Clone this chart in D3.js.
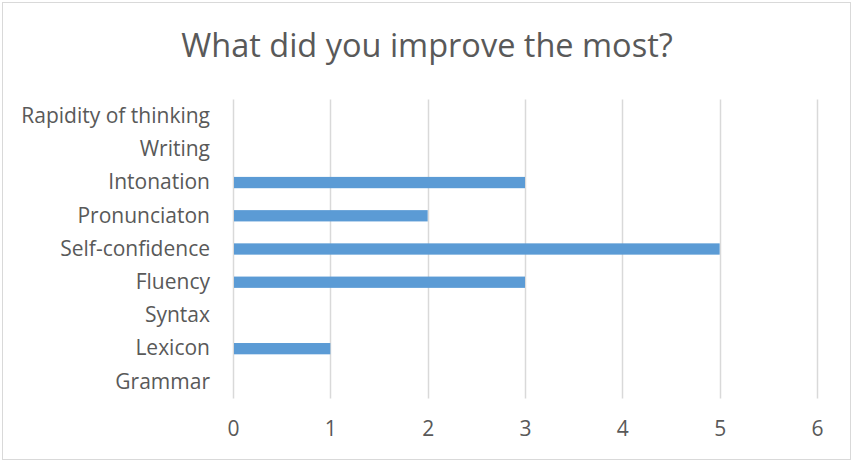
<!DOCTYPE html>
<html><head><meta charset="utf-8">
<script src="https://cdn.jsdelivr.net/npm/d3@7"></script>
<style>body{margin:0;background:#fff}svg{display:block}</style>
</head><body>
<svg id="c" width="854" height="463"></svg>
<script>
const title = "What did you improve the most?";
const categories = ["Rapidity of thinking","Writing","Intonation","Pronunciaton","Self-confidence","Fluency","Syntax","Lexicon","Grammar"];
const values = [0,0,3,2,5,3,0,1,0];
const xTicks = [0,1,2,3,4,5,6];

const svg = d3.select("#c");
const font = "'Open Sans', sans-serif";
svg.append("rect").attr("x",2.5).attr("y",2.5).attr("width",848).attr("height",457)
  .attr("fill","#fff").attr("stroke","#d9d9d9").attr("stroke-width",1);

const x = d3.scaleLinear().domain([0,6]).range([233,817]);
const y = d3.scaleBand().domain(categories).range([99.5,398.5]).paddingInner(0.66).paddingOuter(0.33);

svg.append("g").selectAll("line").data(xTicks).join("line")
  .attr("x1",d=>Math.round(x(d))+0.5).attr("x2",d=>Math.round(x(d))+0.5)
  .attr("y1",99.5).attr("y2",398.5).attr("stroke","#d9d9d9").attr("stroke-width",1.5);

svg.append("g").selectAll("rect").data(values).join("rect")
  .attr("x",x(0)+1).attr("y",(d,i)=>y(categories[i]))
  .attr("width",d=>Math.max(0,x(d)-x(0)-1)).attr("height",y.bandwidth())
  .attr("fill","#5B9BD5");

const yAxis = d3.axisLeft(y).tickSize(0).tickPadding(0);
const gy = svg.append("g").attr("transform","translate(210,0)").call(yAxis);
gy.select(".domain").remove();
gy.selectAll("text").attr("font-family",font).attr("font-size",21).attr("fill","#595959");

const xAxis = d3.axisBottom(x).tickValues(xTicks).tickSize(0).tickPadding(0).tickFormat(d3.format("d"));
const gx = svg.append("g").attr("transform","translate(0,421)").call(xAxis);
gx.select(".domain").remove();
gx.selectAll("text").attr("font-family",font).attr("font-size",21).attr("fill","#595959");

svg.append("text").attr("x",427).attr("y",57).attr("text-anchor","middle")
  .attr("font-family",font).attr("font-size",32.5).attr("fill","#595959").text(title);
</script>
</body></html>
